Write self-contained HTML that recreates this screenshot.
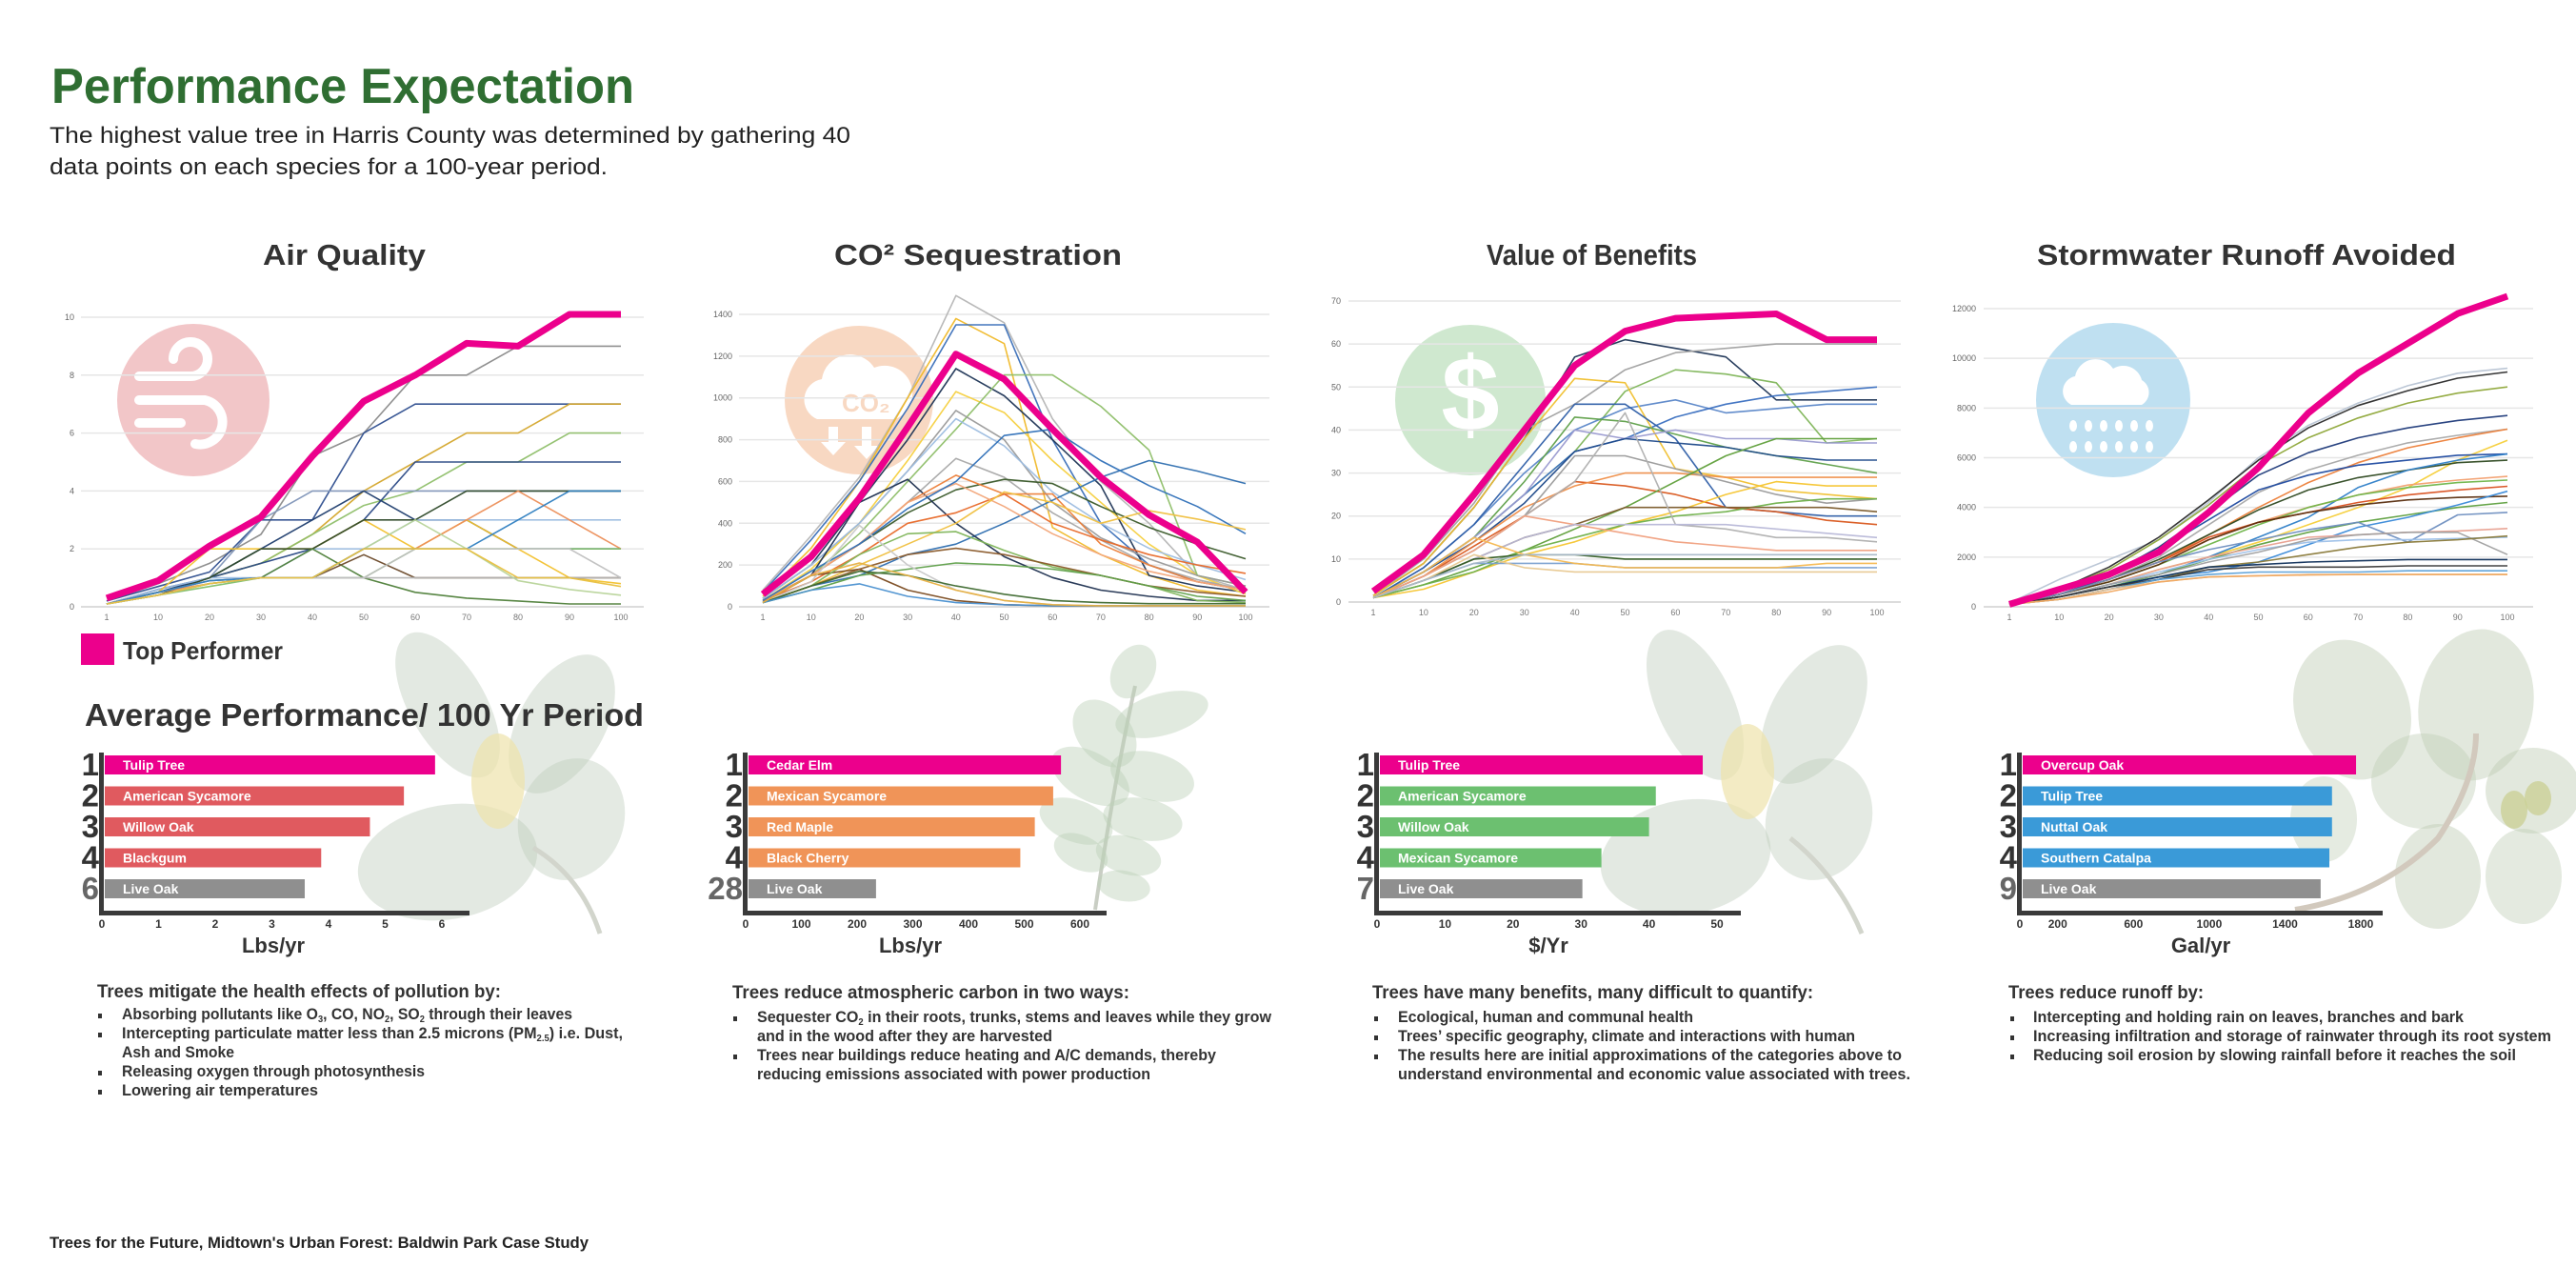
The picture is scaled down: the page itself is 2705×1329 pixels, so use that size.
<!DOCTYPE html>
<html><head><meta charset="utf-8"><title>Performance Expectation</title>
<style>
html,body{margin:0;padding:0;background:#fff;}
svg{display:block;font-family:"Liberation Sans",Arial,sans-serif;}
</style></head>
<body>
<svg id="page" xmlns="http://www.w3.org/2000/svg" width="2705" height="1329" viewBox="0 0 2705 1329">
<rect width="2705" height="1329" fill="#ffffff"/>
<g id="leaves"></g>
<g id="charts"></g>
<g id="texts">
  <text x="54" y="108" font-size="52" font-weight="bold" fill="#2f6e32" textLength="612" lengthAdjust="spacingAndGlyphs">Performance Expectation</text>
  <text x="52" y="150" font-size="24" fill="#222" textLength="841" lengthAdjust="spacingAndGlyphs">The highest value tree in Harris County was determined by gathering 40</text>
  <text x="52" y="183" font-size="24" fill="#222" textLength="586" lengthAdjust="spacingAndGlyphs">data points on each species for a 100-year period.</text>

  <text x="276" y="278" font-size="31" font-weight="bold" fill="#333" textLength="171" lengthAdjust="spacingAndGlyphs">Air Quality</text>
  <text x="876" y="278" font-size="31" font-weight="bold" fill="#333" textLength="302" lengthAdjust="spacingAndGlyphs">CO² Sequestration</text>
  <text x="1561" y="278" font-size="31" font-weight="bold" fill="#333" textLength="221" lengthAdjust="spacingAndGlyphs">Value of Benefits</text>
  <text x="2139" y="278" font-size="31" font-weight="bold" fill="#333" textLength="440" lengthAdjust="spacingAndGlyphs">Stormwater Runoff Avoided</text>

  <rect x="85" y="665" width="35" height="33" fill="#ec008c"/>
  <text x="129" y="692" font-size="26" font-weight="bold" fill="#333" textLength="168" lengthAdjust="spacingAndGlyphs">Top Performer</text>

  <text x="89" y="762" font-size="33" font-weight="bold" fill="#333" textLength="587" lengthAdjust="spacingAndGlyphs">Average Performance/ 100 Yr Period</text>

  <g fill="#333" font-weight="bold">
    <text x="102" y="1047" font-size="19" textLength="424" lengthAdjust="spacingAndGlyphs">Trees mitigate the health effects of pollution by:</text>
    <rect x="103" y="1064" width="4" height="5"/><rect x="103" y="1084" width="4" height="5"/><rect x="103" y="1124" width="4" height="5"/><rect x="103" y="1144" width="4" height="5"/>
    <text x="128" y="1070" font-size="17" textLength="473" lengthAdjust="spacingAndGlyphs">Absorbing pollutants like O<tspan font-size="10" dy="3">3</tspan><tspan dy="-3">, CO, NO</tspan><tspan font-size="10" dy="3">2</tspan><tspan dy="-3">, SO</tspan><tspan font-size="10" dy="3">2</tspan><tspan dy="-3"> through their leaves</tspan></text>
    <text x="128" y="1090" font-size="17" textLength="526" lengthAdjust="spacingAndGlyphs">Intercepting particulate matter less than 2.5 microns (PM<tspan font-size="10" dy="3">2.5</tspan><tspan dy="-3">) i.e. Dust,</tspan></text>
    <text x="128" y="1110" font-size="17" textLength="118" lengthAdjust="spacingAndGlyphs">Ash and Smoke</text>
    <text x="128" y="1130" font-size="17" textLength="318" lengthAdjust="spacingAndGlyphs">Releasing oxygen through photosynthesis</text>
    <text x="128" y="1150" font-size="17" textLength="206" lengthAdjust="spacingAndGlyphs">Lowering air temperatures</text>
  </g>
  <g fill="#333" font-weight="bold">
    <text x="769" y="1048" font-size="19" textLength="417" lengthAdjust="spacingAndGlyphs">Trees reduce atmospheric carbon in two ways:</text>
    <rect x="770" y="1067" width="4" height="5"/><rect x="770" y="1107" width="4" height="5"/>
    <text x="795" y="1073" font-size="17" textLength="540" lengthAdjust="spacingAndGlyphs">Sequester CO<tspan font-size="10" dy="3">2</tspan><tspan dy="-3"> in their roots, trunks, stems and leaves while they grow</tspan></text>
    <text x="795" y="1093" font-size="17" textLength="310" lengthAdjust="spacingAndGlyphs">and in the wood after they are harvested</text>
    <text x="795" y="1113" font-size="17" textLength="482" lengthAdjust="spacingAndGlyphs">Trees near buildings reduce heating and A/C demands, thereby</text>
    <text x="795" y="1133" font-size="17" textLength="413" lengthAdjust="spacingAndGlyphs">reducing emissions associated with power production</text>
  </g>
  <g fill="#333" font-weight="bold">
    <text x="1441" y="1048" font-size="19" textLength="463" lengthAdjust="spacingAndGlyphs">Trees have many benefits, many difficult to quantify:</text>
    <rect x="1443" y="1067" width="4" height="5"/><rect x="1443" y="1087" width="4" height="5"/><rect x="1443" y="1107" width="4" height="5"/>
    <text x="1468" y="1073" font-size="17" textLength="310" lengthAdjust="spacingAndGlyphs">Ecological, human and communal health</text>
    <text x="1468" y="1093" font-size="17" textLength="480" lengthAdjust="spacingAndGlyphs">Trees’ specific geography, climate and interactions with human</text>
    <text x="1468" y="1113" font-size="17" textLength="529" lengthAdjust="spacingAndGlyphs">The results here are initial approximations of the categories above to</text>
    <text x="1468" y="1133" font-size="17" textLength="538" lengthAdjust="spacingAndGlyphs">understand environmental and economic value  associated with trees.</text>
  </g>
  <g fill="#333" font-weight="bold">
    <text x="2109" y="1048" font-size="19" textLength="205" lengthAdjust="spacingAndGlyphs">Trees reduce runoff by:</text>
    <rect x="2111" y="1067" width="4" height="5"/><rect x="2111" y="1087" width="4" height="5"/><rect x="2111" y="1107" width="4" height="5"/>
    <text x="2135" y="1073" font-size="17" textLength="452" lengthAdjust="spacingAndGlyphs">Intercepting and holding rain on leaves, branches and bark</text>
    <text x="2135" y="1093" font-size="17" textLength="544" lengthAdjust="spacingAndGlyphs">Increasing infiltration and storage of rainwater through its root system</text>
    <text x="2135" y="1113" font-size="17" textLength="507" lengthAdjust="spacingAndGlyphs">Reducing soil erosion by slowing rainfall before it reaches the soil</text>
  </g>
  <text x="52" y="1310" font-size="17" font-weight="bold" fill="#222" textLength="566" lengthAdjust="spacingAndGlyphs">Trees for the Future, Midtown's Urban Forest: Baldwin Park Case Study</text>
</g>
</svg>
<script>
var xCats = ['1','10','20','30','40','50','60','70','80','90','100'];

var airTicks = [0,2,4,6,8,10];
var airTop = [0.3,0.9,2.1,3.1,5.2,7.1,8.0,9.1,9.0,10.1,10.1];
var airSeries = [
 [0.2,0.8,1.5,2.5,5.2,6,8,8,9,9,9],
 [0.2,0.7,1.2,3,3,6,7,7,7,7,7],
 [0.1,0.5,1,1.5,2.5,4,5,6,6,7,7],
 [0.1,0.5,1,1.5,2.5,3.5,4,5,5,6,6],
 [0.1,0.6,1,1.5,2,3,5,5,5,5,5],
 [0.1,0.5,1,3,4,4,4,4,4,4,4],
 [0.1,0.5,1,2,3,4,3,3,2,2,2],
 [0.1,0.6,1,1,2,2,3,3,3,3,3],
 [0.1,0.5,2,2,2,3,2,3,2,1,0.8],
 [0.1,0.4,1,2,2,3,3,4,4,4,4],
 [0.1,0.5,0.8,1,1,2,2,3,4,3,2],
 [0.1,0.4,0.7,1,1,1,2,2,2,2,2],
 [0.1,0.4,0.8,1,2,1,0.5,0.3,0.2,0.1,0.1],
 [0.1,0.5,0.9,1,1,1.8,1,1,1,1,1],
 [0.1,0.5,0.9,1,1,1,1,1,1,1,1],
 [0.1,0.4,0.8,1,1,2,3,2,0.9,0.6,0.4],
 [0.1,0.5,0.9,1,1,2,2,2,3,4,4],
 [0.1,0.4,0.8,1,1,1,2,2,2,2,1],
 [0.1,0.4,0.8,1,1,2,2,2,1,1,0.7]
];
var airColors = ['#8a8a8a','#2f4f8f','#d4a72c','#8fbf6a','#2b4a86','#7f95b8','#1f3d6e','#9dbde0','#f2c12e','#2f4a2a','#ec8f5a','#7fbf6a','#4f7f3a','#6b4a2a','#b5b5b5','#b8d49a','#2f7fc1','#c0c0c0','#e8c040'];

var co2Ticks = [0,200,400,600,800,1000,1200,1400];
var co2Top = [60,240,520,860,1210,1090,850,620,440,310,70];
var co2Series = [
 [80,340,620,1000,1490,1360,900,600,400,150,80],
 [50,280,600,1000,1380,1260,380,250,150,80,50],
 [70,320,600,950,1350,1350,800,400,200,120,80],
 [40,200,500,800,1140,1010,800,580,150,100,70],
 [30,180,400,700,1030,930,700,500,300,150,60],
 [30,150,350,600,850,1110,1110,960,750,150,100],
 [40,200,400,650,940,800,500,330,230,150,100],
 [40,200,400,650,900,770,550,400,280,200,130],
 [30,150,300,500,710,620,450,320,200,130,80],
 [30,150,300,450,560,610,590,480,380,300,230],
 [20,100,150,250,300,400,510,620,700,650,590],
 [20,150,500,610,400,240,140,80,50,30,30],
 [30,150,300,500,630,540,540,300,200,120,80],
 [30,120,250,400,450,540,400,320,250,200,160],
 [30,150,300,500,590,480,350,250,170,120,80],
 [30,170,300,470,600,820,850,700,580,480,350],
 [20,100,200,300,400,550,500,400,460,420,370],
 [20,150,180,80,30,10,5,5,5,5,5],
 [20,100,250,350,360,270,190,150,100,30,20],
 [20,100,180,250,280,250,200,150,100,70,50],
 [20,80,150,180,210,200,180,150,100,50,30],
 [20,120,390,200,80,30,10,5,5,5,5],
 [20,100,170,150,100,60,30,20,15,15,15],
 [20,80,110,50,20,10,5,5,5,5,5],
 [20,150,210,150,80,30,10,5,5,5,5]
];
var co2Colors = ['#b5b5b5','#f0b92a','#3a6fb8','#1f3556','#f5d040','#8fbf6a','#9a9a9a','#9dbde0','#a8a8a8','#3a5a2a','#2f6fb0','#1f3050','#ec7f3a','#e86a2a','#f2a77a','#2f70b8','#f0c040','#7a4a1f','#7fb55a','#8a5a2a','#5fa04a','#c8c8c8','#3f6a30','#4a90d0','#e8b040'];

var valTicks = [0,10,20,30,40,50,60,70];
var valTop = [2.5,11,25,40,55,63,66,66.5,67,61,61];
var valSeries = [
 [1.5,9,22,38,57,61,59,57,47,47,47],
 [1.5,10,23,40,46,54,58,59,60,60,60],
 [1,7,15,25,35,49,54,53,51,37,38],
 [1,8,18,30,40,45,47,44,45,46,46],
 [1,7,15,25,35,38,43,46,48,49,50],
 [1.5,9,22,38,52,51,31,29,26,25,24],
 [1,8,18,32,46,46,38,22,21,20,20],
 [1,7,15,28,43,42,39,36,34,32,30],
 [1,7,15,25,40,38,40,38,38,37,37],
 [1,7,14,23,35,38,37,36,34,33,33],
 [1,6,13,20,28,27,25,22,21,19,18],
 [1,6,14,22,27,30,30,29,29,29,29],
 [1,6,12,20,34,34,31,28,25,23,24],
 [1,4,8,12,17,22,28,34,38,38,38],
 [1,3,7,11,14,18,21,25,28,27,27],
 [1,4,7,12,15,18,20,21,23,24,24],
 [1,5,10,15,18,22,22,22,22,22,21],
 [1,6,12,20,28,44,18,17,15,15,14],
 [1,6,12,20,18,16,14,13,12,12,12],
 [1,5,10,15,18,18,18,18,17,16,15],
 [1,5,10,11,11,10,10,10,10,10,10],
 [1,5,9,9,9,8,8,8,8,8,8],
 [1,5,11,8,7,7,7,7,7,7,7],
 [1,7,15,11,9,8,8,8,8,9,9],
 [1,5,9,11,11,11,11,11,11,11,11]
];
var valColors = ['#1f3556','#a0a0a0','#7fb55a','#5a86c8','#3a6fc0','#f0c030','#2f5fa8','#5fa04a','#9a9ad0','#1f4a8a','#d9581f','#ef8f4a','#9a9a9a','#5f9f3a','#f5c530','#6fb04a','#7a5a2a','#b0b0b0','#f0a080','#b8b8d8','#2f5a20','#7aa0d0','#e8c890','#f5b850','#a8b8c8'];

var stormTicks = [0,2000,4000,6000,8000,10000,12000];
var stormTop = [100,700,1300,2200,3800,5600,7800,9400,10600,11800,12500];
var stormSeries = [
 [150,1100,1900,2700,4200,6000,7300,8200,8900,9400,9600],
 [100,700,1600,2800,4300,5900,7200,8100,8700,9200,9450],
 [100,700,1500,2700,4100,5700,6800,7600,8200,8600,8850],
 [100,600,1300,2400,3800,5300,6200,6800,7200,7500,7700],
 [100,500,1100,2000,3300,4600,5500,6100,6600,6900,7150],
 [100,500,1100,1800,2900,4000,5000,5800,6400,6800,7150],
 [100,400,900,1500,2000,2600,3300,4000,4800,5900,6700],
 [100,500,1200,2300,3500,4700,5300,5700,5900,6100,6150],
 [100,500,1100,1900,2900,3900,4700,5200,5500,5800,5900],
 [100,400,900,1300,2000,2800,3600,4800,5500,5900,6150],
 [100,500,1100,1800,2700,3400,4000,4500,4900,5100,5250],
 [100,500,1000,1700,2500,3300,4000,4500,4800,5000,5100],
 [100,500,1100,1800,2800,3400,3800,4200,4500,4700,4850],
 [100,500,1000,1700,2700,3400,3800,4100,4300,4400,4450],
 [100,400,800,1300,1900,2500,3000,3400,3700,4000,4200],
 [100,400,800,1200,1400,1800,2500,3200,3600,4100,4650],
 [100,500,1100,1800,2300,2700,3100,3400,2600,3700,3800],
 [100,400,900,1500,2000,2400,2800,2900,3000,3050,3150],
 [100,400,900,1400,1900,2300,2600,2700,2700,2750,2800],
 [100,400,900,1300,1800,2200,2700,2900,3000,3000,2100],
 [100,300,700,1100,1600,1800,2100,2400,2600,2700,2850],
 [100,400,800,1200,1600,1700,1800,1850,1900,1900,1900],
 [100,400,800,1100,1500,1600,1600,1600,1650,1650,1650],
 [100,300,700,1100,1300,1400,1400,1400,1450,1450,1450],
 [100,300,700,1000,1200,1250,1300,1300,1300,1300,1300],
 [100,300,600,1000,1200,1250,1280,1300,1300,1300,1300]
];
var stormColors = ['#b8c4d4','#2a2a2a','#8fa83a','#1f3a7a','#a8a8a8','#ec7f3a','#f5cf3a','#1f4aa0','#2f4a22','#2f7fc8','#f2a070','#6fb54a','#d9501f','#5a2f10','#5fa040','#3a8ad8','#6f8fc0','#e8a090','#9dc0e8','#a0a0a0','#8a7a3a','#0f2f5a','#3a3a3a','#5aa0d8','#e8c090','#f0a860'];

var airBarNames = ['Tulip Tree','American Sycamore','Willow Oak','Blackgum','Live Oak'];
var airBarRanks = ['1','2','3','4','6'];
var airBarValues = [5.88,5.33,4.73,3.87,3.58];
var airBarTicks = [0,1,2,3,4,5,6];

var co2BarNames = ['Cedar Elm','Mexican Sycamore','Red Maple','Black Cherry','Live Oak'];
var co2BarRanks = ['1','2','3','4','28'];
var co2BarValues = [566,552,519,493,234];
var co2BarTicks = [0,100,200,300,400,500,600];

var valBarNames = ['Tulip Tree','American Sycamore','Willow Oak','Mexican Sycamore','Live Oak'];
var valBarRanks = ['1','2','3','4','7'];
var valBarValues = [47.9,41,40,33,30.2];
var valBarTicks = [0,10,20,30,40,50];

var stormBarNames = ['Overcup Oak','Tulip Tree','Nuttal Oak','Southern Catalpa','Live Oak'];
var stormBarRanks = ['1','2','3','4','9'];
var stormBarValues = [1775,1648,1648,1634,1588];
var stormBarTicks = [0,200,600,1000,1400,1800];

var NS = 'http://www.w3.org/2000/svg';
function mk(tag, attrs, parent){
  var e = document.createElementNS(NS, tag);
  for (var k in attrs) e.setAttribute(k, attrs[k]);
  if (parent) parent.appendChild(e);
  return e;
}
var charts = document.getElementById('charts');
var leaves = document.getElementById('leaves');

function leaf(cx, cy, rx, ry, rot, fill, op){
  var e = mk('ellipse', {cx:cx, cy:cy, rx:rx, ry:ry, transform:'rotate('+rot+' '+cx+' '+cy+')', fill:fill, opacity:op}, leaves);
  
  
}
leaf(470,740,40,85,-30,'#bccbb9',0.42); leaf(590,760,45,80,30,'#bccbb9',0.42);
leaf(470,905,95,60,-10,'#bccbb9',0.42); leaf(600,860,55,65,20,'#bccbb9',0.4);
leaf(523,820,28,50,0,'#eee3ab',0.7);
mk('path',{d:'M560 890 Q610 920 630 980',stroke:'#d2d5cc','stroke-width':5,fill:'none'},leaves);
mk('path',{d:'M1150 955 Q1170 820 1192 720',stroke:'#c9cec4','stroke-width':4,fill:'none'},leaves);
leaf(1160,770,28,40,-40,'#bcd1b9',0.45); leaf(1220,750,50,22,-15,'#bcd1b9',0.45);
leaf(1145,815,25,45,-60,'#bcd1b9',0.45); leaf(1210,815,45,25,15,'#bcd1b9',0.45);
leaf(1130,862,22,40,-70,'#bcd1b9',0.45); leaf(1200,860,42,22,10,'#bcd1b9',0.45);
leaf(1135,895,18,30,-65,'#bcd1b9',0.45); leaf(1185,898,35,20,15,'#bcd1b9',0.45);
leaf(1180,930,28,16,10,'#bcd1b9',0.45); leaf(1190,705,22,30,30,'#bcd1b9',0.45);
leaf(1780,740,40,85,-25,'#bccbb9',0.42); leaf(1905,750,45,80,30,'#bccbb9',0.42);
leaf(1770,900,90,60,-10,'#bccbb9',0.42); leaf(1910,860,55,65,20,'#bccbb9',0.4);
leaf(1835,810,28,50,0,'#eee3ab',0.7);
mk('path',{d:'M1880 880 Q1930 920 1955 980',stroke:'#d2d5cc','stroke-width':5,fill:'none'},leaves);
leaf(2470,745,60,75,-20,'#bfcdb4',0.45); leaf(2600,740,60,80,10,'#bfcdb4',0.45);
leaf(2660,830,50,45,0,'#bfcdb4',0.45); leaf(2545,820,55,50,0,'#bfcdb4',0.42);
leaf(2560,920,45,55,0,'#bfcdb4',0.45); leaf(2650,920,40,50,0,'#bfcdb4',0.42);
leaf(2440,860,35,45,0,'#bfcdb4',0.4);
leaf(2640,850,14,20,0,'#c9cf92',0.75); leaf(2665,838,14,18,0,'#c9cf92',0.75);
mk('path',{d:'M2410 955 Q2500 940 2560 880 Q2600 820 2600 770',stroke:'#d2c9bd','stroke-width':6,fill:'none'},leaves);

function iconCircle(cx, cy, r, fill, name){
  var c = mk('circle', {cx:cx, cy:cy, r:r, fill:fill}, charts);
  
  
  return c;
}
iconCircle(203,420,80,'#f2c6c8','air-icon');
mk('path',{d:'M146 395 L200 395 A18 18 0 1 0 182 377 M146 420 L215 420 A22 22 0 1 1 205 466 M146 444 L190 444',stroke:'#fff','stroke-width':10,fill:'none','stroke-linecap':'round'},charts);
iconCircle(902,420,78,'#f8d8c2','co2-icon');
mk('path',{d:'M858 440 a22 22 0 0 1 5 -42 a30 30 0 0 1 55 -12 a24 24 0 0 1 22 54 z',fill:'#fff'},charts);
var co2t = mk('text',{x:884,y:432,'font-size':26,'font-weight':'bold',fill:'#f8d8c2'},charts); co2t.textContent='CO₂';
 
mk('path',{d:'M870 448 v16 h-8 l13 14 l13 -14 h-8 v-16 z M905 448 v20 h-8 l13 14 l13 -14 h-8 v-20 z',fill:'#fff'},charts);
iconCircle(1544,420,79,'#cfe8cf','value-icon');
var dol = mk('text',{x:1544,y:452,'font-size':110,'font-weight':'bold',fill:'#fff','text-anchor':'middle'},charts); dol.textContent='$';
 
iconCircle(2219,420,81,'#bfe0f1','stormwater-icon');
mk('path',{d:'M2175 425 a16 16 0 0 1 4 -30 a22 22 0 0 1 40 -8 a20 20 0 0 1 30 12 a15 15 0 0 1 0 26 z',fill:'#fff'},charts);
for (var dr=0; dr<2; dr++) for (var dc=0; dc<6; dc++){
  mk('ellipse',{cx:2177+dc*16,cy:447+dr*22,rx:4,ry:6,fill:'#fff'},charts);
}

function lineChart(name, box, ticks, top, series, colors){
  var g = mk('g', {}, charts);
  
  
  var yMax = ticks[ticks.length-1];
  function sx(i){ return box.x0 + (box.x1 - box.x0) * i / (xCats.length - 1); }
  function sy(v){ return box.yb - (box.yb - box.yt) * v / yMax; }
  ticks.forEach(function(t){
    var ln = mk('line', {x1:box.gl, x2:box.gr, y1:sy(t), y2:sy(t), stroke: t===0 ? '#d0d0d0' : '#e6e6e6', 'stroke-width':1.5}, g);
    
    
    var tx = mk('text', {x:box.lx, y:sy(t)+3, 'font-size':9, fill:'#666', 'text-anchor':'end'}, g);
    tx.textContent = String(t);
    
    
  });
  xCats.forEach(function(c, i){
    var tx = mk('text', {x:sx(i), y:box.yb+14, 'font-size':9, fill:'#777', 'text-anchor':'middle'}, g);
    tx.textContent = c;
    
    
  });
  function pathFor(vals){
    return vals.map(function(v,i){ return (i?'L':'M') + sx(i).toFixed(1) + ' ' + sy(v).toFixed(1); }).join(' ');
  }
  series.forEach(function(s, k){
    var p = mk('path', {d:pathFor(s), fill:'none', stroke:colors[k % colors.length], 'stroke-width':1.6, 'stroke-linejoin':'round', opacity:0.95}, g);
    
    
  });
  var tp = mk('path', {d:pathFor(top), fill:'none', stroke:'#ec008c', 'stroke-width':7, 'stroke-linejoin':'round'}, g);
  
  
}
lineChart('air-quality-chart', {x0:112,x1:652,gl:85,gr:676,yt:333,yb:637,lx:78}, airTicks, airTop, airSeries, airColors);
lineChart('co2-chart', {x0:801,x1:1308,gl:776,gr:1333,yt:330,yb:637,lx:769}, co2Ticks, co2Top, co2Series, co2Colors);
lineChart('value-chart', {x0:1442,x1:1971,gl:1416,gr:1996,yt:316,yb:632,lx:1408}, valTicks, valTop, valSeries, valColors);
lineChart('stormwater-chart', {x0:2110,x1:2633,gl:2083,gr:2660,yt:324,yb:637,lx:2075}, stormTicks, stormTop, stormSeries, stormColors);

function barChart(name, box, names, ranks, values, ticks, color, unit){
  var g = mk('g', {}, charts);
  
  
  function sx(v){ return box.ax + v * box.ppu; }
  names.forEach(function(n, i){
    var y = 793 + i * 32.5;
    var fill = i === 0 ? '#ec008c' : (i === names.length - 1 ? '#8f8f8f' : color);
    var r = mk('rect', {x:box.ax+3, y:y, width:sx(values[i]) - box.ax - 3, height:20, fill:fill}, g);
    
    
    var t = mk('text', {x:box.ax+22, y:y+15, 'font-size':14, 'font-weight':'bold', fill:'#fff'}, g);
    t.textContent = n;
    
    
    var rk = mk('text', {x:box.ax-3, y:y+21, 'font-size':33, 'font-weight':'bold', fill: i === names.length - 1 ? '#666' : '#333', 'text-anchor':'end'}, g);
    rk.textContent = ranks[i];
    
    
  });
  var va = mk('rect', {x:box.ax-3, y:790, width:5, height:171, fill:'#3a3a3a'}, g);
  
  
  var ha = mk('rect', {x:box.ax-3, y:956, width:box.end - box.ax + 3, height:5, fill:'#3a3a3a'}, g);
  
  
  ticks.forEach(function(t){
    var tx = mk('text', {x:sx(t), y:974, 'font-size':12, 'font-weight':'bold', fill:'#333', 'text-anchor':'middle'}, g);
    tx.textContent = String(t);
    
    
  });
  var u = mk('text', {x:box.ux, y:1000, 'font-size':22, 'font-weight':'bold', fill:'#333', 'text-anchor':'middle'}, g);
  u.textContent = unit;
  
  
}
barChart('air-bar-chart', {ax:107, ppu:59.5, end:493, ux:287}, airBarNames, airBarRanks, airBarValues, airBarTicks, '#e05a5f', 'Lbs/yr');
barChart('co2-bar-chart', {ax:783, ppu:0.585, end:1162, ux:956}, co2BarNames, co2BarRanks, co2BarValues, co2BarTicks, '#f09458', 'Lbs/yr');
barChart('value-bar-chart', {ax:1446, ppu:7.14, end:1828, ux:1626}, valBarNames, valBarRanks, valBarValues, valBarTicks, '#6cc070', '$/Yr');
barChart('stormwater-bar-chart', {ax:2121, ppu:0.1989, end:2502, ux:2311}, stormBarNames, stormBarRanks, stormBarValues, stormBarTicks, '#3a9ad8', 'Gal/yr');
</script>
</body></html>
